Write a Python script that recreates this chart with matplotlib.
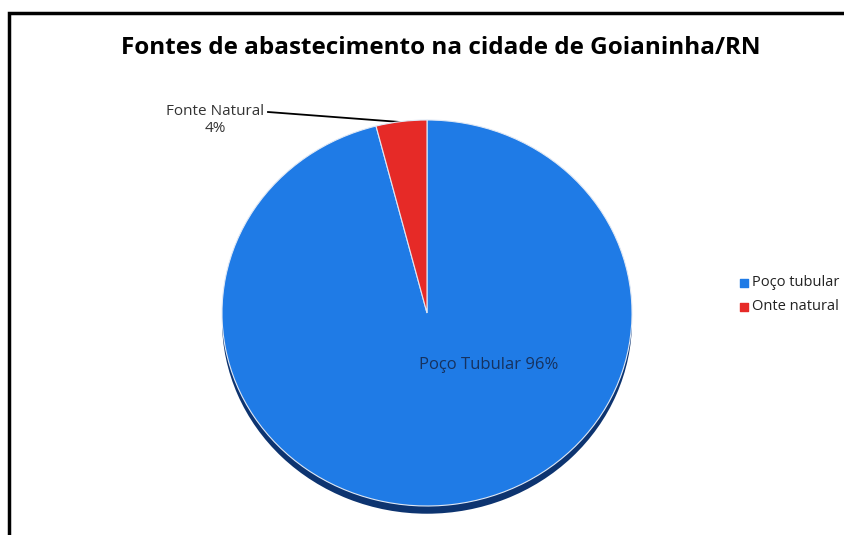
import matplotlib
matplotlib.use("Agg")
import matplotlib.pyplot as plt

title = "Fontes de abastecimento na cidade de Goianinha/RN"
labels = ["Poço tubular", "Onte natural"]
values = [96, 4]
colors = ["#1f7be6", "#e62a27"]

plt.rcParams["font.family"] = ["Open Sans", "DejaVu Sans"]

fig = plt.figure(figsize=(8.44, 5.35), dpi=100)

# frame (only top and left edges visible in the original)
bg = fig.add_axes([0, 0, 1, 1])
bg.set_xlim(0, 844)
bg.set_ylim(535, 0)
bg.axis("off")
bg.plot([9, 9, 844], [535, 13, 13], color="black", lw=2.5, solid_joinstyle="miter")

fig.text(0.522, 1 - 48 / 535, title, ha="center", va="center",
         fontsize=17.5, fontweight="bold", family=["Open Sans", "DejaVu Sans"])

# pie axes, stretched a bit to get the tilted look
ax = fig.add_axes([222 / 844, 1 - 506 / 535, 410 / 844, 386 / 535])
ax.axis("off")

# shadow
ax.pie([1], colors=["#0d3470"], radius=1.0, center=(0, -0.04),
       wedgeprops=dict(linewidth=0))
wedges, _ = ax.pie(values, colors=colors, startangle=90, counterclock=False,
                   radius=1.0, wedgeprops=dict(edgecolor="#dfe8f5", linewidth=0.8))
ax.set_aspect("auto")
ax.set_xlim(-1, 1)
ax.set_ylim(-1, 1)

ax.text(0.30, -0.27, f"Poço Tubular {values[0]}%", ha="center", va="center",
        fontsize=12, color="#16325f")

# label for small slice with leader line
bg.plot([268, 400], [112, 122], color="black", lw=1.3)
bg.text(215, 120, f"Fonte Natural\n{values[1]}%", ha="center", va="center",
        fontsize=11, color="#333333", linespacing=1.15)

# legend
for i, (lab, c) in enumerate(zip(labels, colors)):
    y = 283 + i * 24
    bg.scatter([744], [y], marker="s", s=40, color=c)
    bg.text(752, y, lab, ha="left", va="center", fontsize=10.5, color="#222222")

fig.savefig("out.png", dpi=100)
